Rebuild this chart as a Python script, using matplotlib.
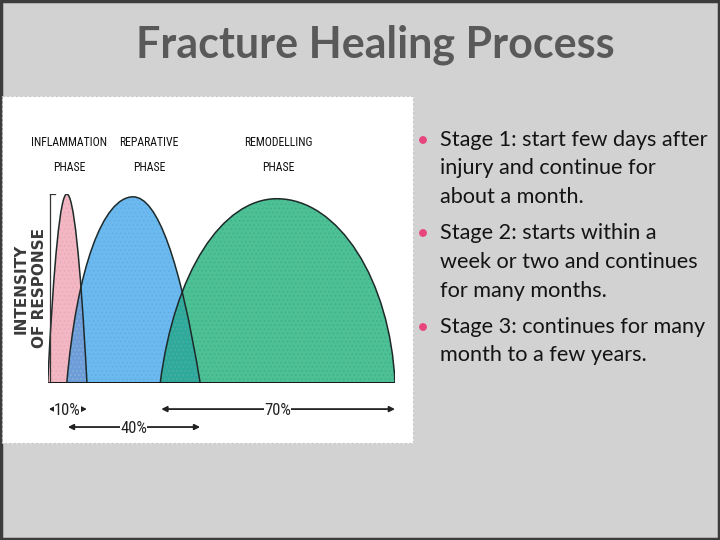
import matplotlib
matplotlib.use("Agg")
import matplotlib.pyplot as plt
from matplotlib.path import Path
from matplotlib.patches import PathPatch, Rectangle, Circle

# ---------------- data ----------------
phases = ["INFLAMMATION\nPHASE", "REPARATIVE\nPHASE", "REMODELLING\nPHASE"]
phase_start = [0.0, 5.5, 32.4]      # % of healing time
phase_peak = [5.5, 24.6, 66.0]
phase_end = [11.3, 43.9, 100.0]
phase_height = [1.0, 0.985, 0.975]  # relative intensity
duration_labels = ["10%", "40%", "70%"]
arrow_rows = [-0.138, -0.233, -0.138]

title = "Fracture Healing Process"
bullets = [
    ["Stage 1: start few days after", "injury and continue for", "about a month."],
    ["Stage 2: starts within a", "week or two and continues", "for many months."],
    ["Stage 3: continues for many", "month to a few years."],
]

fill_colors = ["#f2b7c3", "#6cb9f0", "#4ec096"]
overlap_colors = ["#6c9dd8", "#2fa99b"]   # pink/blue, blue/green
left_shape = [(0.33, 0.67, 0.33), (0.15, 0.62, 0.45), (0.12, 0.6, 0.47)]
right_shape = [(0.33, 0.67, 0.33), (0.30, 0.66, 0.36), (0.04, 0.56, 0.52)]

COND = ["Roboto Condensed", "Noto Sans", "DejaVu Sans"]

W, H = 720, 540
fig = plt.figure(figsize=(7.2, 5.4), dpi=100)
fig.patch.set_facecolor("#d2d2d2")

bg = fig.add_axes([0, 0, 1, 1])
bg.set_xlim(0, W)
bg.set_ylim(H, 0)
bg.axis("off")
bg.add_patch(Rectangle((1, 1), W - 2, H - 2, fill=False, ec="#3c3c3c", lw=2.5))
bg.add_patch(Rectangle((2, 96), 411, 347, fc="white", ec="#c8c8c8", lw=0.8, ls=(0, (2, 2))))

bg.text(375, 45, title, ha="center", va="center", fontsize=31, fontweight="bold",
        color="#595959", family=["Lato", "DejaVu Sans"])

line_y = [[140, 168, 197], [233, 262, 291], [327, 355]]
for lines, ys in zip(bullets, line_y):
    bg.add_patch(Circle((423, ys[0]), 3.2, color="#e8457e"))
    for t, y in zip(lines, ys):
        bg.text(440, y, t, ha="left", va="center", fontsize=15.6, color="#141414",
                family=["Lato", "DejaVu Sans"])

x0, x1, y0, y1 = 47.7, 395.0, 383.0, 194.0
ax = fig.add_axes([x0 / W, 1 - y0 / H, (x1 - x0) / W, (y0 - y1) / H])
ax.set_xlim(0, 100)
ax.set_ylim(0, 1)
ax.axis("off")


def dome(s, c, e, h, ls, rs):
    f1, g1, f2 = ls
    r1, q1, r2 = rs
    lw_, rw_ = c - s, e - c
    verts = [(s, 0), (s + f1 * lw_, g1 * h), (c - f2 * lw_, h), (c, h),
             (c + r2 * rw_, h), (e - r1 * rw_, q1 * h), (e, 0), (s, 0)]
    codes = [Path.MOVETO, Path.CURVE4, Path.CURVE4, Path.CURVE4,
             Path.CURVE4, Path.CURVE4, Path.CURVE4, Path.CLOSEPOLY]
    return Path(verts, codes)


paths = [dome(phase_start[i], phase_peak[i], phase_end[i], phase_height[i],
              left_shape[i], right_shape[i]) for i in range(3)]

plt.rcParams["hatch.linewidth"] = 0.6
patches = []
for i, p in enumerate(paths):
    pp = PathPatch(p, fc=fill_colors[i], ec="none", zorder=1 + i)
    ax.add_patch(pp)
    patches.append(pp)
for k in range(2):
    ov = PathPatch(paths[k + 1], fc=overlap_colors[k], ec="none", zorder=5)
    ax.add_patch(ov)
    ov.set_clip_path(patches[k])
tex_cols = ["#e9a9b6", "#5eaee6", "#3fb088"]
for i, p in enumerate(paths):
    ax.add_patch(PathPatch(p, fc="none", ec=tex_cols[i], lw=0, hatch="....", zorder=6))
for i, p in enumerate(paths):
    ax.add_patch(PathPatch(p, fc="none", ec="#1e2a2a", lw=1.1, zorder=7))

ax.plot([0, 100], [0, 0], color="#1a1a1a", lw=2.2, zorder=8, solid_capstyle="butt")
ax.plot([0.6, 0.6], [0, 1.0], color="#333333", lw=0.9, zorder=8)
ax.plot([0.6, 2.0], [1.0, 1.0], color="#333333", lw=0.9, zorder=8)

label_x = [6.1, 29.2, 66.3]
for lab, xx in zip(phases, label_x):
    ax.text(xx, 1.206, lab, ha="center", va="center", fontsize=8.5, color="#111111",
            family=COND, fontstretch="extra-condensed",
            linespacing=2.2, clip_on=False)

ax.text(-5.0, 0.5, "INTENSITY\nOF RESPONSE", rotation=90, ha="center", va="center",
        fontsize=11, fontweight="bold", color="#3a3a3a", linespacing=1.25,
        family=["DejaVu Sans"], clip_on=False)

for i in range(3):
    ys = arrow_rows[i]
    s, e = phase_start[i], phase_end[i]
    mid = (s + e) / 2
    for end in (s + 0.3, e):
        ax.annotate("", xy=(end, ys), xytext=(mid, ys), annotation_clip=False,
                    arrowprops=dict(arrowstyle="-|>", color="#222222", lw=1.3,
                                    mutation_scale=8, shrinkA=0, shrinkB=0))
    ax.text(mid, ys - 0.01, duration_labels[i], ha="center", va="center", fontsize=12,
            color="#222222", family=COND, fontstretch="extra-condensed",
            bbox=dict(fc="white", ec="none", pad=0.3), clip_on=False, zorder=9)

fig.savefig("out.png", dpi=100, facecolor=fig.get_facecolor())
